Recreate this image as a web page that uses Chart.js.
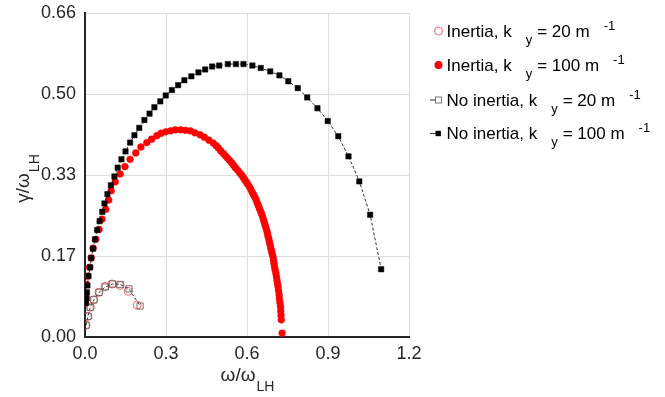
<!DOCTYPE html>
<html>
<head>
<meta charset="utf-8">
<script src="https://cdn.jsdelivr.net/npm/chart.js@4"></script>
<style>
  body { margin: 0; background: #fff; }
  #wrap { width: 665px; height: 397px; }
</style>
</head>
<body>
<div id="wrap"><canvas id="growthChart" width="665" height="397"></canvas></div>
<script>
// tick values / labels
var xTickValues = [0, 0.3, 0.6, 0.9, 1.2];
var xTickLabels = ['0.0', '0.3', '0.6', '0.9', '1.2'];
var yTickValues = [0, 0.165, 0.33, 0.495, 0.66];
var yTickLabels = ['0.00', '0.17', '0.33', '0.50', '0.66'];

var seriesNames = ['Inertia, k', 'Inertia, k', 'No inertia, k', 'No inertia, k'];
var seriesKy = ['= 20 m', '= 100 m', '= 20 m', '= 100 m'];

// Inertia, ky = 20 m^-1
var inertia20X = [0.004, 0.011, 0.020, 0.033, 0.052, 0.074, 0.100, 0.130, 0.160, 0.193];
var inertia20Y = [0.024, 0.042, 0.061, 0.076, 0.091, 0.103, 0.108, 0.105, 0.093, 0.065];

// Inertia, ky = 100 m^-1
var inertia100X = [0.000, 0.003, 0.005, 0.010, 0.017, 0.023, 0.030, 0.040, 0.052, 0.063,
  0.077, 0.088, 0.097, 0.112, 0.130, 0.148, 0.167, 0.188, 0.207, 0.229,
  0.247, 0.266, 0.282, 0.299, 0.317, 0.335, 0.354, 0.372, 0.390, 0.407,
  0.426, 0.442, 0.459,
  0.475, 0.485, 0.494, 0.503, 0.512, 0.520, 0.527, 0.535, 0.543, 0.550,
  0.557, 0.565, 0.572, 0.580, 0.586, 0.592, 0.597, 0.603, 0.609, 0.614,
  0.619, 0.624, 0.629, 0.634, 0.638, 0.642, 0.646, 0.650, 0.654, 0.658,
  0.661, 0.664, 0.667, 0.670, 0.673, 0.676, 0.678, 0.681, 0.683, 0.686,
  0.688, 0.691, 0.693, 0.696, 0.698, 0.700, 0.702, 0.704, 0.707, 0.709,
  0.711, 0.713, 0.715, 0.717, 0.719, 0.720, 0.722, 0.724, 0.725, 0.726,
  0.727, 0.730];
var inertia100Y = [0.069, 0.089, 0.107, 0.124, 0.142, 0.161, 0.181, 0.199, 0.219, 0.240,
  0.260, 0.279, 0.298, 0.316, 0.332, 0.347, 0.362, 0.375, 0.387, 0.396,
  0.403, 0.410, 0.415, 0.418, 0.420, 0.422, 0.422, 0.421, 0.420, 0.416,
  0.412, 0.407, 0.401,
  0.395, 0.390, 0.385, 0.379, 0.374, 0.369, 0.365, 0.360, 0.355, 0.350,
  0.345, 0.340, 0.335, 0.330, 0.325, 0.320, 0.316, 0.311, 0.306, 0.301,
  0.295, 0.290, 0.285, 0.279, 0.273, 0.268, 0.262, 0.256, 0.251, 0.245,
  0.239, 0.234, 0.228, 0.223, 0.217, 0.211, 0.205, 0.199, 0.193, 0.187,
  0.181, 0.175, 0.170, 0.164, 0.157, 0.150, 0.143, 0.137, 0.130, 0.123,
  0.116, 0.109, 0.102, 0.094, 0.086, 0.078, 0.070, 0.062, 0.053, 0.044,
  0.035, 0.008];

// No inertia, ky = 20 m^-1
var noInertia20X = [0.004, 0.011, 0.019, 0.033, 0.052, 0.075, 0.102, 0.130, 0.163, 0.204];
var noInertia20Y = [0.024, 0.042, 0.060, 0.076, 0.091, 0.102, 0.108, 0.107, 0.098, 0.063];

// No inertia, ky = 100 m^-1
var noInertia100X = [0.004, 0.006, 0.007, 0.009, 0.013, 0.019, 0.023, 0.030, 0.037, 0.045,
  0.054, 0.064, 0.072, 0.083, 0.096, 0.109, 0.121, 0.135, 0.150, 0.167,
  0.183, 0.201, 0.220, 0.239, 0.257, 0.279, 0.299, 0.322, 0.345, 0.368,
  0.394, 0.420, 0.445, 0.471, 0.497, 0.529, 0.559, 0.587, 0.620, 0.651,
  0.686, 0.720, 0.753, 0.788, 0.823, 0.861, 0.899, 0.938, 0.976, 1.016,
  1.056, 1.097];
var noInertia100Y = [0.069, 0.079, 0.091, 0.105, 0.124, 0.142, 0.161, 0.180, 0.199, 0.218,
  0.236, 0.255, 0.272, 0.291, 0.309, 0.327, 0.345, 0.362, 0.378, 0.396,
  0.411, 0.426, 0.442, 0.455, 0.468, 0.480, 0.492, 0.503, 0.513, 0.523,
  0.531, 0.539, 0.545, 0.551, 0.553, 0.556, 0.556, 0.556, 0.553, 0.548,
  0.541, 0.533, 0.521, 0.507, 0.488, 0.466, 0.440, 0.409, 0.368, 0.317,
  0.249, 0.138];

function toPoints(xs, ys) {
  return xs.map(function (x, i) { return { x: x, y: ys[i] }; });
}

var FONT = '"Liberation Sans", Arial, Helvetica, sans-serif';
var TXT = '#262626';

// axis titles with subscripts + MATLAB-like legend, drawn on the canvas
var labelsPlugin = {
  id: 'labels',
  afterDraw: function (chart) {
    var ctx = chart.ctx;
    var area = chart.chartArea;
    ctx.save();
    ctx.fillStyle = TXT;
    ctx.textBaseline = 'alphabetic';
    ctx.textAlign = 'left';

    // x title
    ctx.font = '19px ' + FONT;
    var mainW = ctx.measureText('ω/ω').width;
    ctx.font = '14px ' + FONT;
    var subW = ctx.measureText('LH').width;
    var cx = (area.left + area.right) / 2;
    var sx = cx - (mainW + subW) / 2;
    ctx.font = '19px ' + FONT;
    ctx.fillText('ω/ω', sx, 381);
    ctx.font = '14px ' + FONT;
    ctx.fillText('LH', sx + mainW + 1, 391);

    // y title (rotated)
    ctx.save();
    ctx.translate(29, 179);
    ctx.rotate(-Math.PI / 2);
    ctx.font = '19px ' + FONT;
    mainW = ctx.measureText('γ/ω').width;
    ctx.font = '14px ' + FONT;
    subW = ctx.measureText('LH').width;
    sx = -(mainW + subW) / 2;
    ctx.font = '19px ' + FONT;
    ctx.fillText('γ/ω', sx, 0);
    ctx.font = '14px ' + FONT;
    ctx.fillText('LH', sx + mainW + 1, 10);
    ctx.restore();

    // legend
    var baselines = [36.5, 70.5, 105.5, 139];
    ctx.fillStyle = '#000';
    for (var i = 0; i < 4; i++) {
      var b = baselines[i];
      var my = b - 5.5;
      // marker
      ctx.save();
      if (i === 0) {
        ctx.strokeStyle = 'rgba(255,0,0,0.75)';
        ctx.lineWidth = 0.8;
        ctx.beginPath(); ctx.arc(438.5, my, 4, 0, Math.PI * 2); ctx.stroke();
      } else if (i === 1) {
        ctx.fillStyle = '#ff0000';
        ctx.beginPath(); ctx.arc(438.5, my, 4, 0, Math.PI * 2); ctx.fill();
      } else {
        ctx.strokeStyle = '#000';
        ctx.lineWidth = 0.8;
        ctx.beginPath(); ctx.moveTo(430, my); ctx.lineTo(436, my); ctx.stroke();
        if (i === 2) {
          ctx.strokeStyle = '#555';
          ctx.strokeRect(435.5, my - 3, 6, 6);
        } else {
          ctx.fillStyle = '#000';
          ctx.fillRect(435.5, my - 2.7, 5.4, 5.4);
        }
      }
      ctx.restore();
      // text
      var x = 446.5;
      ctx.font = '17px ' + FONT;
      ctx.fillText(seriesNames[i], x, b);
      x += ctx.measureText(seriesNames[i]).width + 14;
      ctx.font = '13px ' + FONT;
      ctx.fillText('y', x, b + 7);
      x += ctx.measureText('y').width + 5;
      ctx.font = '17px ' + FONT;
      ctx.fillText(seriesKy[i], x, b);
      x += ctx.measureText(seriesKy[i]).width + 14;
      ctx.font = '13px ' + FONT;
      ctx.fillText('-1', x, b - 7);
    }
    ctx.restore();
  }
};

var ctx = document.getElementById('growthChart').getContext('2d');
var growthChart = new Chart(ctx, {
  type: 'scatter',
  data: {
    datasets: [
      {
        label: 'Inertia, ky = 20 m-1',
        data: toPoints(inertia20X, inertia20Y),
        pointStyle: 'circle',
        pointRadius: 4,
        pointBorderColor: 'rgba(255,0,0,0.75)',
        pointBorderWidth: 0.8,
        pointBackgroundColor: 'rgba(0,0,0,0)',
        showLine: false,
        order: 3
      },
      {
        label: 'Inertia, ky = 100 m-1',
        data: toPoints(inertia100X, inertia100Y),
        pointStyle: 'circle',
        pointRadius: 3.4,
        pointBorderColor: '#ff0000',
        pointBorderWidth: 0.5,
        pointBackgroundColor: '#ff0000',
        showLine: false,
        order: 2
      },
      {
        label: 'No inertia, ky = 20 m-1',
        data: toPoints(noInertia20X, noInertia20Y),
        pointStyle: 'rect',
        pointRadius: 4.4,
        pointBorderColor: '#555',
        pointBorderWidth: 0.8,
        pointBackgroundColor: 'rgba(0,0,0,0)',
        showLine: true,
        borderColor: '#000',
        borderWidth: 0.8,
        borderDash: [3, 2],
        order: 1
      },
      {
        label: 'No inertia, ky = 100 m-1',
        data: toPoints(noInertia100X, noInertia100Y),
        pointStyle: 'rect',
        pointRadius: 3.8,
        pointBorderColor: '#000',
        pointBorderWidth: 0.5,
        pointBackgroundColor: '#000',
        showLine: true,
        borderColor: '#000',
        borderWidth: 0.8,
        borderDash: [3, 2],
        order: 0
      }
    ]
  },
  options: {
    responsive: false,
    animation: false,
    layout: { padding: { top: 13, right: 256, bottom: 0, left: 0 } },
    plugins: {
      legend: { display: false },
      tooltip: { enabled: false }
    },
    scales: {
      x: {
        type: 'linear',
        min: 0,
        max: 1.2,
        afterBuildTicks: function (scale) {
          scale.ticks = xTickValues.map(function (v) { return { value: v }; });
        },
        afterFit: function (scale) { scale.height = 60; },
        ticks: {
          callback: function (v, i) { return xTickLabels[i]; },
          font: { size: 18, family: FONT },
          color: TXT,
          padding: 6,
          maxRotation: 0
        },
        grid: { color: '#dedede', lineWidth: 1, drawTicks: false },
        border: { color: TXT, width: 2 }
      },
      y: {
        type: 'linear',
        min: 0,
        max: 0.66,
        afterBuildTicks: function (scale) {
          scale.ticks = yTickValues.map(function (v) { return { value: v }; });
        },
        afterFit: function (scale) {
          scale.width = 85;
          scale.paddingTop = 0;
          scale.paddingBottom = 0;
        },
        ticks: {
          callback: function (v, i) { return yTickLabels[i]; },
          font: { size: 18, family: FONT },
          color: TXT,
          padding: 9
        },
        grid: { color: '#dedede', lineWidth: 1, drawTicks: false },
        border: { color: TXT, width: 2 }
      }
    }
  },
  plugins: [labelsPlugin]
});
</script>
</body>
</html>
